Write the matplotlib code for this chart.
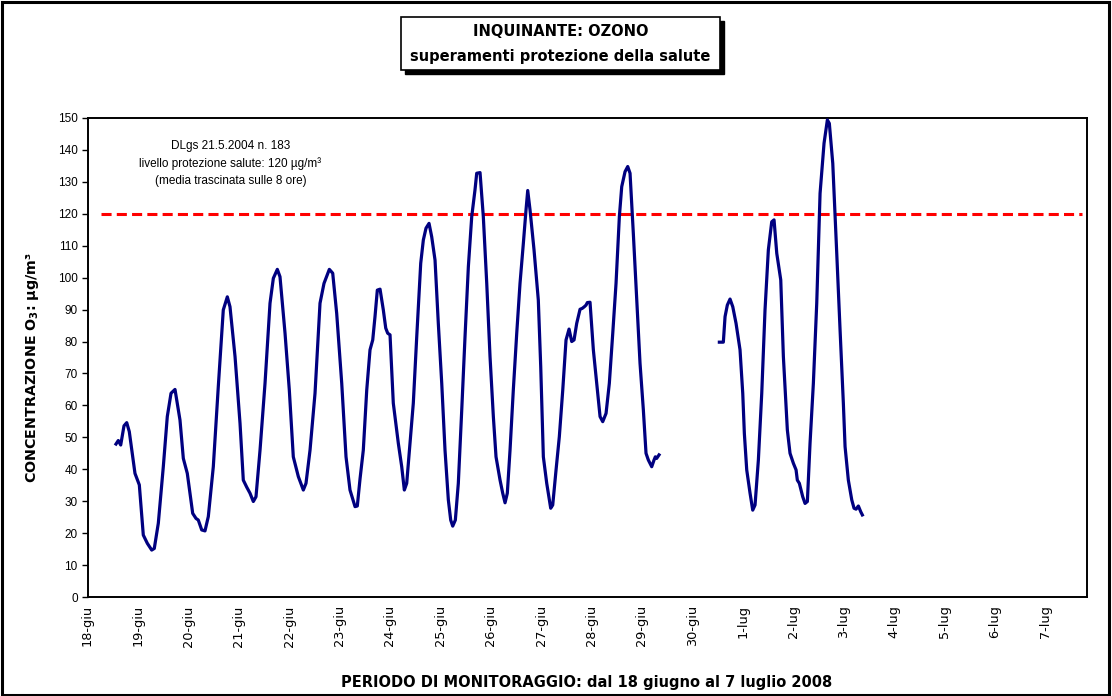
import matplotlib
matplotlib.use("Agg")
import matplotlib.pyplot as plt
from matplotlib.patches import Rectangle

plt.rcParams['font.family'] = ['Liberation Sans', 'DejaVu Sans']
plt.rcParams['mathtext.fontset'] = 'custom'
plt.rcParams['mathtext.rm'] = 'DejaVu Sans'
plt.rcParams['mathtext.bf'] = 'DejaVu Sans:bold'

# ---------------- data ----------------
day_labels = ["18-giu", "19-giu", "20-giu", "21-giu", "22-giu", "23-giu", "24-giu",
              "25-giu", "26-giu", "27-giu", "28-giu", "29-giu", "30-giu", "1-lug",
              "2-lug", "3-lug", "4-lug", "5-lug", "6-lug", "7-lug"]
y_ticks = list(range(0, 151, 10))
threshold = 120
threshold_days = [0.26, 19.73]

# days elapsed since 18-giu 00:00, O3 8h running mean (µg/m³)
seg1_day = [0.565, 0.611, 0.659, 0.724, 0.778, 0.829, 0.942, 1.028, 1.107, 1.187,
            1.274, 1.325, 1.405, 1.504, 1.583, 1.657, 1.736, 1.835, 1.901, 1.980,
            2.087, 2.153, 2.198, 2.266, 2.331, 2.397, 2.496, 2.595, 2.694, 2.774,
            2.827, 2.927, 3.026, 3.091, 3.159, 3.224, 3.290, 3.343, 3.423, 3.522,
            3.621, 3.687, 3.766, 3.819, 3.919, 4.004, 4.083, 4.183, 4.282, 4.335,
            4.415, 4.514, 4.613, 4.692, 4.798, 4.865, 4.944, 5.044, 5.129, 5.208,
            5.308, 5.353, 5.407, 5.472, 5.540, 5.605, 5.659, 5.704, 5.750, 5.804,
            5.869, 5.917, 5.956, 6.002, 6.067, 6.167, 6.234, 6.286, 6.333, 6.399,
            6.464, 6.532, 6.611, 6.663, 6.716, 6.776, 6.829, 6.895, 6.960, 7.028,
            7.093, 7.159, 7.206, 7.246, 7.298, 7.357, 7.425, 7.490, 7.556, 7.623,
            7.688, 7.722, 7.788, 7.853, 7.921, 7.986, 8.052, 8.105, 8.185, 8.238,
            8.284, 8.329, 8.383, 8.448, 8.516, 8.581, 8.647, 8.700, 8.734, 8.780,
            8.859, 8.944, 8.992, 9.044, 9.111, 9.190, 9.230, 9.296, 9.361, 9.429,
            9.494, 9.554, 9.607, 9.653, 9.706, 9.772, 9.817, 9.857, 9.891, 9.917,
            9.970, 10.036, 10.103, 10.169, 10.222, 10.288, 10.353, 10.421, 10.486, 10.552,
            10.599, 10.665, 10.718, 10.764, 10.829, 10.897, 10.962, 11.028, 11.081, 11.127,
            11.194, 11.240, 11.266, 11.292, 11.339]
seg1_val = [47.9, 49.0, 47.6, 53.6, 54.6, 51.8, 38.7, 35.1, 19.4, 16.8,
            14.7, 15.2, 23.1, 40.8, 56.5, 63.8, 65.0, 55.4, 43.4, 38.7,
            26.2, 24.6, 24.1, 21.0, 20.7, 25.2, 40.8, 65.9, 89.9, 94.0,
            90.9, 75.3, 54.4, 36.6, 34.4, 32.5, 29.9, 31.4, 46.0, 66.9,
            92.0, 99.8, 102.6, 100.3, 82.6, 64.8, 43.9, 37.7, 33.5, 35.6,
            46.0, 63.8, 92.0, 98.2, 102.6, 101.4, 88.8, 66.9, 43.9, 33.5,
            28.3, 28.5, 37.0, 46.0, 64.8, 77.4, 80.5, 87.8, 96.1, 96.4,
            89.9, 84.2, 82.6, 82.1, 60.7, 48.1, 40.8, 33.5, 35.6, 48.1,
            60.7, 81.5, 104.5, 111.8, 115.5, 117.0, 112.8, 105.5, 85.7, 66.9,
            46.0, 30.4, 24.1, 22.2, 24.1, 35.6, 58.6, 81.5, 103.4, 119.1,
            127.5, 132.7, 132.9, 119.1, 98.2, 75.3, 56.5, 43.9, 36.6, 32.5,
            29.5, 32.5, 46.0, 64.8, 82.6, 98.2, 110.7, 121.2, 127.3, 121.2,
            108.7, 93.0, 72.1, 43.9, 35.6, 27.8, 28.8, 39.8, 50.2, 64.8,
            80.5, 83.9, 80.0, 80.5, 85.7, 90.1, 90.4, 90.9, 91.4, 92.2,
            92.3, 77.4, 66.9, 56.5, 54.9, 57.5, 66.9, 82.6, 98.2, 119.1,
            128.5, 133.2, 134.8, 132.7, 113.9, 93.0, 73.2, 58.6, 45.0, 42.9,
            40.8, 42.9, 43.9, 43.4, 44.5]

seg2_day = [12.536, 12.615, 12.649, 12.694, 12.748, 12.802, 12.867, 12.946, 13.000, 13.032,
            13.079, 13.145, 13.198, 13.244, 13.310, 13.377, 13.442, 13.508, 13.575, 13.621,
            13.675, 13.754, 13.806, 13.885, 13.938, 14.004, 14.058, 14.083, 14.123, 14.190,
            14.236, 14.282, 14.335, 14.401, 14.468, 14.534, 14.613, 14.679, 14.718, 14.786,
            14.865, 14.931, 14.996, 15.030, 15.095, 15.163, 15.208, 15.248, 15.294, 15.341,
            15.373]
seg2_val = [79.8, 79.8, 87.8, 91.4, 93.3, 90.9, 85.7, 77.4, 63.8, 51.2,
            39.8, 32.5, 27.2, 28.8, 42.9, 63.8, 89.9, 108.7, 117.5, 118.1,
            107.6, 99.3, 75.3, 52.3, 45.0, 41.9, 39.8, 36.6, 35.6, 31.4,
            29.3, 29.9, 48.1, 66.9, 92.0, 126.4, 142.1, 149.4, 148.3, 135.8,
            107.6, 83.6, 60.7, 47.1, 36.6, 30.4, 27.8, 27.5, 28.5, 26.7,
            25.7]

# ---------------- figure ----------------
W, H = 1112, 696
fig = plt.figure(figsize=(W / 100, H / 100), dpi=100)

def fx(px):
    return px / W

def fy(py):
    return 1 - py / H

# outer frame
fig.patches.append(Rectangle((fx(1.5), fy(694.5)), fx(1108.5) - fx(1.5), fy(1.5) - fy(694.5),
                             transform=fig.transFigure, fill=False, lw=2.2, ec='black'))

ax = fig.add_axes([fx(87.5), fy(597), fx(1087) - fx(87.5), fy(118) - fy(597)])

navy = '#000080'
ax.plot(seg1_day, seg1_val, color=navy, lw=2.3, solid_joinstyle='round', zorder=3)
ax.plot(seg2_day, seg2_val, color=navy, lw=2.3, solid_joinstyle='round', zorder=3)
ax.plot(threshold_days, [threshold, threshold], color='#ff0000', lw=2.2,
        dashes=(3.3, 1.7), zorder=2)

ax.set_xlim(0, 19.83)
ax.set_ylim(0, 150)
ax.set_yticks(y_ticks)
ax.set_yticklabels([str(v) for v in y_ticks], fontsize=8.5)
ax.set_xticks(range(len(day_labels)))
ax.set_xticklabels(day_labels, rotation=90, fontsize=9.3, va='top', ha='center',
                   family='DejaVu Sans')
ax.tick_params(axis='y', direction='out', length=4, width=1, pad=3)
ax.tick_params(axis='x', direction='out', length=0, pad=6)
for s in ax.spines.values():
    s.set_linewidth(1.4)
    s.set_color('black')

ax.text(0.143, 0.954, "DLgs 21.5.2004 n. 183\nlivello protezione salute: 120 µg/m³\n(media trascinata sulle 8 ore)",
        transform=ax.transAxes, ha='center', va='top', fontsize=8.5, linespacing=1.55)

fig.text(fx(33), fy(367), r"CONCENTRAZIONE O$_{\mathbf{3}}$: µg/m³", rotation=90,
         ha='center', va='center', fontsize=10.3, fontweight='bold', family='DejaVu Sans')
fig.text(fx(587), fy(683), "PERIODO DI MONITORAGGIO: dal 18 giugno al 7 luglio 2008",
         ha='center', va='center', fontsize=10.5, fontweight='bold', family='DejaVu Sans')

# title box with shadow
bx0, by0, bx1, by1 = 401, 17, 720, 70
fig.patches.append(Rectangle((fx(bx0 + 4), fy(by1 + 4)), fx(bx1 - bx0), fy(by0) - fy(by1),
                             transform=fig.transFigure, fc='black', ec='black', lw=1, zorder=1))
fig.patches.append(Rectangle((fx(bx0), fy(by1)), fx(bx1 - bx0), fy(by0) - fy(by1),
                             transform=fig.transFigure, fc='white', ec='black', lw=1.2, zorder=2))
fig.text(fx((bx0 + bx1) / 2), fy(32), "INQUINANTE: OZONO", ha='center', va='center',
         fontsize=10.5, fontweight='bold', family='DejaVu Sans', zorder=3)
fig.text(fx((bx0 + bx1) / 2), fy(56), "superamenti protezione della salute", ha='center', va='center',
         fontsize=10.5, fontweight='bold', family='DejaVu Sans', zorder=3)

fig.savefig("out.png", dpi=100)
